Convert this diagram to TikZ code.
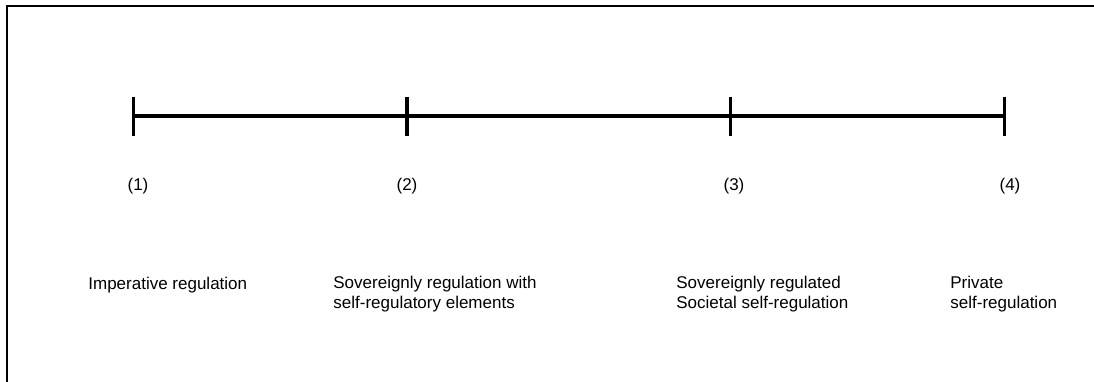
\documentclass[tikz,border=0pt]{standalone}
\usepackage{fontspec}
\setmainfont{Liberation Sans}
\begin{document}
\begin{tikzpicture}[x=0.5pt,y=-0.5pt,
  frame/.style={line width=1pt},
  axis/.style={line width=1.75pt},
  tick/.style={line width=1.75pt},
  num/.style={inner sep=0pt,font=\fontsize{8.5}{10}\selectfont},
  lbl/.style={inner sep=0pt,anchor=base west,align=left,font=\fontsize{8.5}{10}\selectfont}]
\useasboundingbox (0,0) rectangle (1094,381);
\begin{scope}
\clip (0,0) rectangle (1094,381);
\draw[frame] (7,6) rectangle (1200,500);
\end{scope}
% tick positions
\coordinate (t1) at (133.5,116);
\coordinate (t2) at (407,116);
\coordinate (t3) at (730.5,116);
\coordinate (t4) at (1004.5,116);
\draw[axis] (t1) -- (t4);
\foreach \t in {t1,t2,t3,t4}{
  \draw[tick] ([yshift=9.75pt]\t) -- ([yshift=-10pt]\t);
}
\node[num] (n1) at (138,186) {(1)};
\node[num] (n2) at (407,186) {(2)};
\node[num] (n3) at (734,186) {(3)};
\node[num] (n4) at (1010,186) {(4)};
\node[lbl] (l1) at (88,289) {Imperative regulation};
\node[lbl] (l2) at (333,308) {Sovereignly regulation with\\self-regulatory elements};
\node[lbl] (l3) at (676,308) {Sovereignly regulated\\Societal self-regulation};
\node[lbl] (l4) at (950,308) {Private\\self-regulation};
\end{tikzpicture}
\end{document}
